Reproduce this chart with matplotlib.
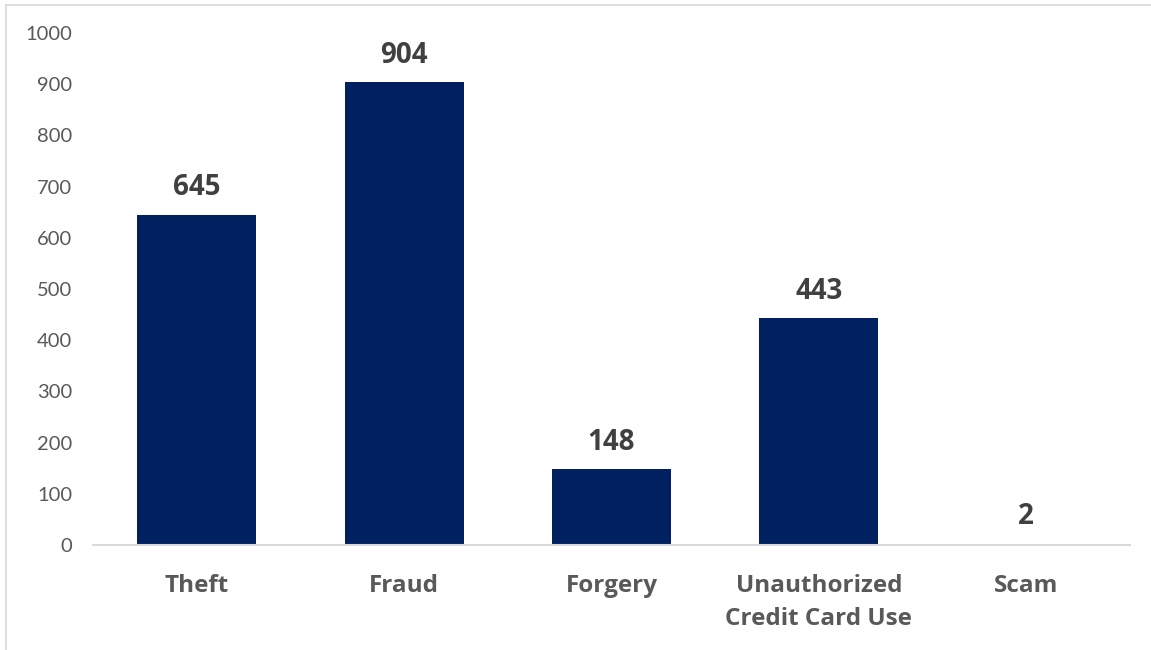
import matplotlib
matplotlib.use("Agg")
import matplotlib.pyplot as plt
from matplotlib.lines import Line2D

categories = ["Theft", "Fraud", "Forgery", "Unauthorized\nCredit Card Use", "Scam"]
values = [645, 904, 148, 443, 2]
yticks = [0, 100, 200, 300, 400, 500, 600, 700, 800, 900, 1000]

plt.rcParams['font.family'] = ['Lato', 'DejaVu Sans']
bold_font = ['Open Sans', 'DejaVu Sans']

fig = plt.figure(figsize=(11.51, 6.5), dpi=100)
ax = fig.add_axes([93/1151, 105/650, (1130-93)/1151, (545-33)/650])

x = list(range(len(categories)))
ax.bar(x, values, width=0.574, color="#002060", zorder=2)
ax.set_xlim(-0.5, len(categories) - 0.5)
ax.set_ylim(0, 1000)
ax.set_yticks(yticks)
ax.set_yticklabels([str(t) for t in yticks], fontsize=14.5, color="#595959")
ax.set_xticks(x)
ax.set_xticklabels(categories, fontsize=17.5, fontweight="bold", family=bold_font,
                   color="#595959", linespacing=1.5, va="top")
ax.tick_params(axis="y", length=0, pad=15)
ax.tick_params(axis="x", length=0, pad=21)
for s in ["top", "right", "left"]:
    ax.spines[s].set_visible(False)
ax.spines["bottom"].set_color("#D9D9D9")
ax.spines["bottom"].set_linewidth(1.5)

for xi, v in zip(x, values):
    ax.annotate(str(v), (xi, v), xytext=(0, 9), textcoords="offset points",
                ha="center", va="bottom", fontsize=20, fontweight="bold",
                family=bold_font, color="#404040")

# outer chart border (top and left visible)
fig.add_artist(Line2D([6/1151, 1], [1 - 5/650, 1 - 5/650], transform=fig.transFigure, color="#D9D9D9", lw=1.2))
fig.add_artist(Line2D([6/1151, 6/1151], [0, 1 - 5/650], transform=fig.transFigure, color="#D9D9D9", lw=1.2))

fig.savefig("out.png", dpi=100)
